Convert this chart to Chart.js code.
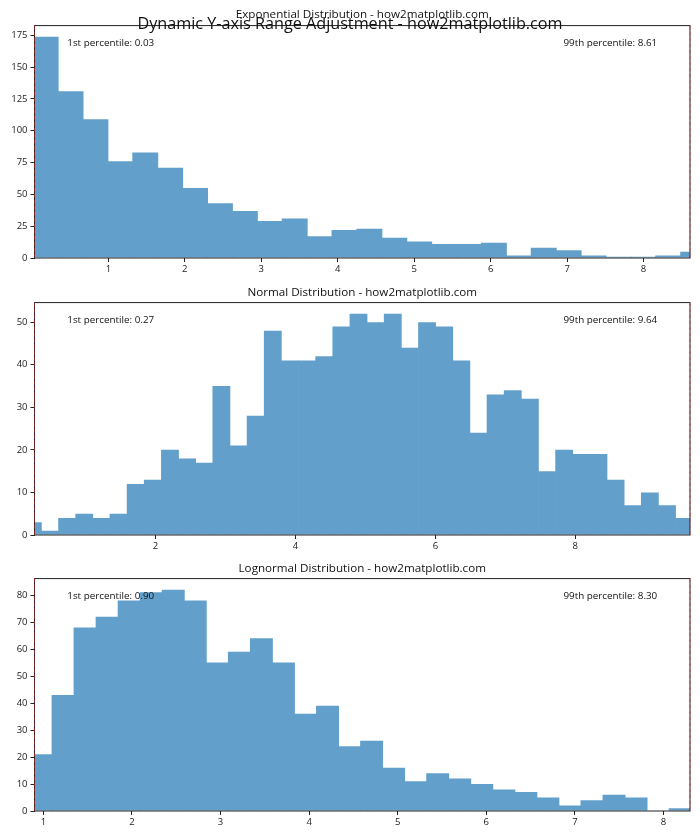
<!DOCTYPE html>
<html><head><meta charset="utf-8">
<script src="https://cdn.jsdelivr.net/npm/chart.js@4.4.1/dist/chart.umd.min.js"></script>
<style>
html,body{margin:0;padding:0;background:#fff;}
body{width:700px;height:840px;position:relative;overflow:hidden;}
.c{position:absolute;left:0;width:700px;}
</style></head><body>
<div class="c" style="top:0;height:280px"><canvas id="c1"></canvas></div>
<div class="c" style="top:280px;height:276px"><canvas id="c2"></canvas></div>
<div class="c" style="top:556px;height:284px"><canvas id="c3"></canvas></div>
<script>
const FONT = "'Open Sans', sans-serif";
const BAR = '#62a0cb';
const suptitle = "Dynamic Y-axis Range Adjustment - how2matplotlib.com";

// Exponential distribution
const expTitle = "Exponential Distribution - how2matplotlib.com";
const expBinStart = 0.017, expBinWidth = 0.3257;
const expCounts = [174,131,109,76,83,71,55,43,37,29,31,17,22,23,16,13,11,11,12,2,8,6,2,1,1,2,5];
const expP1 = 0.034, expP99 = 8.607;
const expXTicks = [1,2,3,4,5,6,7,8];
const expYTicks = [0,25,50,75,100,125,150,175];

// Normal distribution
const normTitle = "Normal Distribution - how2matplotlib.com";
const normBinStart = 0.1238, normBinWidth = 0.245;
const normCounts = [3,1,4,5,4,5,12,13,20,18,17,35,21,28,48,41,41,42,49,52,50,52,44,50,49,41,24,33,34,32,15,20,19,19,13,7,10,7,4];
const normP1 = 0.27, normP99 = 9.64;
const normXTicks = [2,4,6,8];
const normYTicks = [0,10,20,30,40,50];

// Lognormal distribution
const lognTitle = "Lognormal Distribution - how2matplotlib.com";
const lognBinStart = 0.849, lognBinWidth = 0.2488;
const lognCounts = [21,43,68,72,78,81,82,78,55,59,64,55,36,39,24,26,16,11,14,12,10,8,7,5,2,4,6,5,0,1];
const lognP1 = 0.90, lognP99 = 8.30;
const lognXTicks = [1,2,3,4,5,6,7,8];
const lognYTicks = [0,10,20,30,40,50,60,70,80];

function binData(start, width, counts) {
  return counts.map((c, i) => ({ x: start + (i + 0.5) * width, y: c }));
}

const decor = {
  id: 'decor',
  afterDatasetsDraw(chart, args, opts) {
    const { ctx, chartArea: a } = chart;
    const x = chart.scales.x;
    ctx.save();
    ctx.strokeStyle = '#222'; ctx.lineWidth = 1;
    ctx.strokeRect(a.left, a.top, a.right - a.left, a.bottom - a.top);
    ctx.strokeStyle = 'rgba(214,39,40,0.55)'; ctx.setLineDash([4, 2]);
    for (const v of [opts.p1, opts.p99]) {
      const px = x.getPixelForValue(v);
      ctx.beginPath(); ctx.moveTo(px, a.top); ctx.lineTo(px, a.bottom); ctx.stroke();
    }
    ctx.setLineDash([]);
    const w = a.right - a.left;
    ctx.fillStyle = '#111'; ctx.font = '9.85px ' + FONT; ctx.textBaseline = 'alphabetic';
    ctx.textAlign = 'left';
    ctx.fillText('1st percentile: ' + opts.p1.toFixed(2), a.left + 0.05 * w, a.top + 20.5);
    ctx.textAlign = 'right';
    ctx.fillText('99th percentile: ' + opts.p99.toFixed(2), a.right - 0.05 * w, a.top + 20.5);
    if (opts.suptitle) {
      ctx.font = '16.2px ' + FONT; ctx.textAlign = 'center';
      ctx.fillText(opts.suptitle, 350, 28.5);
    }
    ctx.restore();
  }
};

function makeChart(id, cfg) {
  const tickFont = { family: FONT, size: 9.5 };
  return new Chart(document.getElementById(id), {
    type: 'bar',
    data: { datasets: [{
      data: binData(cfg.start, cfg.width, cfg.counts),
      backgroundColor: BAR, borderWidth: 0,
      barPercentage: 1.04, categoryPercentage: 1, clip: 0
    }] },
    plugins: [decor],
    options: {
      responsive: true, maintainAspectRatio: false, animation: false, devicePixelRatio: 1,
      layout: { padding: { left: 0, right: 10, top: 0, bottom: 0 } },
      plugins: {
        legend: { display: false }, tooltip: { enabled: false },
        title: { display: true, text: cfg.title, fullSize: false, color: '#111',
          font: { family: FONT, size: 11.65, weight: 'normal' },
          padding: { top: cfg.tpt, bottom: cfg.tpb } },
        decor: { p1: cfg.p1, p99: cfg.p99, suptitle: cfg.suptitle }
      },
      scales: {
        x: {
          type: 'linear', min: cfg.p1, max: cfg.p99, offset: false,
          grid: { display: true, drawOnChartArea: false, drawTicks: true, tickLength: 4, color: '#222', offset: false },
          border: { display: false },
          ticks: { font: tickFont, color: '#222', padding: 2, maxRotation: 0, autoSkip: false },
          afterBuildTicks: s => { s.ticks = cfg.xTicks.map(v => ({ value: v })); },
          afterFit: s => { s.height = cfg.xh; }
        },
        y: {
          type: 'linear', min: 0, max: Math.max(...cfg.counts) * 1.05,
          grid: { display: true, drawOnChartArea: false, drawTicks: true, tickLength: 4, color: '#222' },
          border: { display: false },
          ticks: { font: tickFont, color: '#222', padding: 3 },
          afterBuildTicks: s => { s.ticks = cfg.yTicks.map(v => ({ value: v })); },
          afterFit: s => { s.width = 34.5; }
        }
      }
    }
  });
}

makeChart('c1', { title: expTitle, start: expBinStart, width: expBinWidth, counts: expCounts,
  p1: expP1, p99: expP99, xTicks: expXTicks, yTicks: expYTicks, xh: 22, tpt: 7.9, tpb: 3.7, suptitle: suptitle });
makeChart('c2', { title: normTitle, start: normBinStart, width: normBinWidth, counts: normCounts,
  p1: normP1, p99: normP99, xTicks: normXTicks, yTicks: normYTicks, xh: 21, tpt: 5.6, tpb: 3.0 });
makeChart('c3', { title: lognTitle, start: lognBinStart, width: lognBinWidth, counts: lognCounts,
  p1: lognP1, p99: lognP99, xTicks: lognXTicks, yTicks: lognYTicks, xh: 29, tpt: 5.3, tpb: 3.3 });
</script>
</body></html>
